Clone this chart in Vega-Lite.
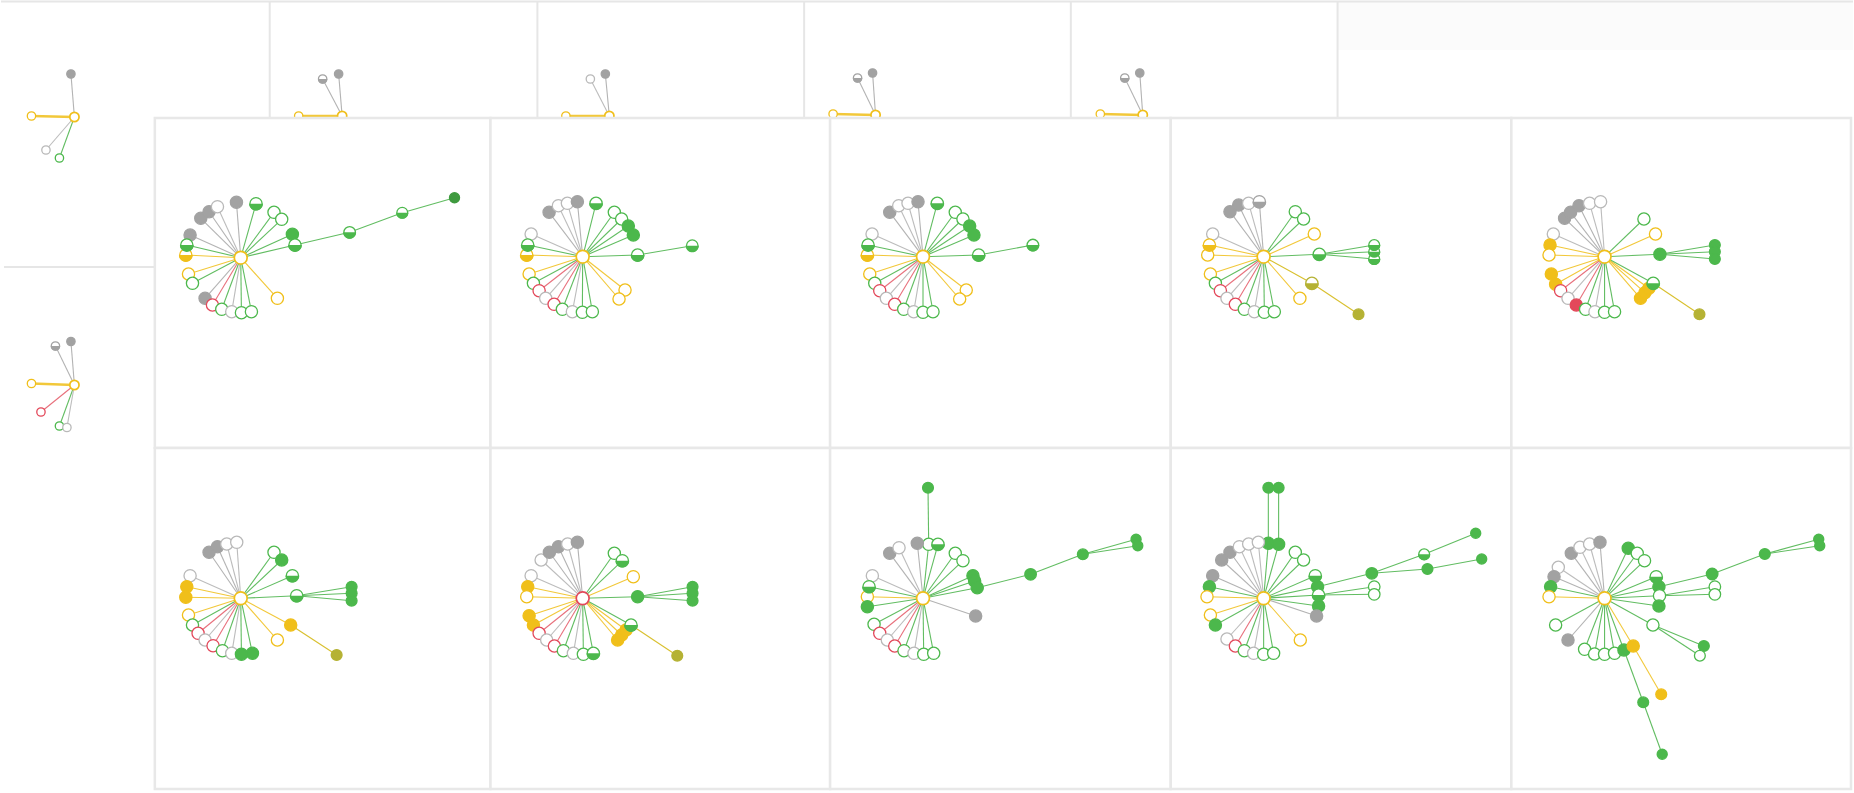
{
  "$schema": "https://vega.github.io/schema/vega-lite/v6.json",
  "width": 1854,
  "height": 793,
  "autosize": {"type": "fit", "contains": "padding"},
  "padding": 0,
  "background": "#ffffff",
  "config": {"view": {"stroke": null}},
  "datasets": {
    "frames": [
      {"k": "band", "x": 1338, "x2": 1854, "y": 2, "y2": 50},
      {"k": "L", "x": 154, "x2": 490, "y": 118, "y2": 448},
      {"k": "L", "x": 490, "x2": 830, "y": 118, "y2": 448},
      {"k": "L", "x": 830, "x2": 1171, "y": 118, "y2": 448},
      {"k": "L", "x": 1171, "x2": 1512, "y": 118, "y2": 448},
      {"k": "L", "x": 1512, "x2": 1852, "y": 118, "y2": 448},
      {"k": "L", "x": 154, "x2": 490, "y": 448, "y2": 789},
      {"k": "L", "x": 490, "x2": 830, "y": 448, "y2": 789},
      {"k": "L", "x": 830, "x2": 1171, "y": 448, "y2": 789},
      {"k": "L", "x": 1171, "x2": 1512, "y": 448, "y2": 789},
      {"k": "L", "x": 1512, "x2": 1852, "y": 448, "y2": 789}
    ],
    "dividers": [
      {"x": 0, "x2": 1854, "y": 1.5, "y2": 1.5},
      {"x": 269, "x2": 269, "y": 1.5, "y2": 118},
      {"x": 537, "x2": 537, "y": 1.5, "y2": 118},
      {"x": 804, "x2": 804, "y": 1.5, "y2": 118},
      {"x": 1071, "x2": 1071, "y": 1.5, "y2": 118},
      {"x": 1338, "x2": 1338, "y": 1.5, "y2": 118},
      {"x": 3, "x2": 154, "y": 267, "y2": 267}
    ],
    "nodes": [
      {"id": "s1", "grp": "s", "x": 73.5, "y": 117, "c": "y", "t": "o", "s": "shub"},
      {"id": "s1a", "grp": "s", "x": 70, "y": 74, "p": "s1", "c": "k", "t": "f", "s": "sn"},
      {"id": "s1b", "grp": "s", "x": 30.5, "y": 116, "p": "s1", "c": "y", "t": "o", "s": "sn"},
      {"id": "s1c", "grp": "s", "x": 45, "y": 150, "p": "s1", "c": "w", "t": "o", "s": "sn"},
      {"id": "s1d", "grp": "s", "x": 58.5, "y": 158, "p": "s1", "c": "g", "t": "o", "s": "sn"},

      {"id": "s2", "grp": "s", "x": 341.5, "y": 116, "c": "y", "t": "o", "s": "shub"},
      {"id": "s2a", "grp": "s", "x": 322, "y": 79, "p": "s2", "c": "k", "t": "h", "s": "sn"},
      {"id": "s2b", "grp": "s", "x": 338, "y": 74, "p": "s2", "c": "k", "t": "f", "s": "sn"},
      {"id": "s2c", "grp": "s", "x": 298, "y": 116, "p": "s2", "c": "y", "t": "o", "s": "sn"},

      {"id": "s3", "grp": "s", "x": 609, "y": 116, "c": "y", "t": "o", "s": "shub"},
      {"id": "s3a", "grp": "s", "x": 590, "y": 79, "p": "s3", "c": "w", "t": "o", "s": "sn"},
      {"id": "s3b", "grp": "s", "x": 605, "y": 74, "p": "s3", "c": "k", "t": "f", "s": "sn"},
      {"id": "s3c", "grp": "s", "x": 565.5, "y": 116, "p": "s3", "c": "y", "t": "o", "s": "sn"},

      {"id": "s4", "grp": "s", "x": 875.5, "y": 115, "c": "y", "t": "o", "s": "shub"},
      {"id": "s4a", "grp": "s", "x": 857.5, "y": 78, "p": "s4", "c": "k", "t": "h", "s": "sn"},
      {"id": "s4b", "grp": "s", "x": 872.5, "y": 73, "p": "s4", "c": "k", "t": "f", "s": "sn"},
      {"id": "s4c", "grp": "s", "x": 833, "y": 114, "p": "s4", "c": "y", "t": "o", "s": "sn"},

      {"id": "s5", "grp": "s", "x": 1143, "y": 115, "c": "y", "t": "o", "s": "shub"},
      {"id": "s5a", "grp": "s", "x": 1125, "y": 78, "p": "s5", "c": "k", "t": "h", "s": "sn"},
      {"id": "s5b", "grp": "s", "x": 1140, "y": 73, "p": "s5", "c": "k", "t": "f", "s": "sn"},
      {"id": "s5c", "grp": "s", "x": 1100.5, "y": 114, "p": "s5", "c": "y", "t": "o", "s": "sn"},

      {"id": "s6", "grp": "s", "x": 73.5, "y": 385, "c": "y", "t": "o", "s": "shub"},
      {"id": "s6a", "grp": "s", "x": 54.5, "y": 346, "p": "s6", "c": "k", "t": "h", "s": "sn"},
      {"id": "s6b", "grp": "s", "x": 70, "y": 341.5, "p": "s6", "c": "k", "t": "f", "s": "sn"},
      {"id": "s6c", "grp": "s", "x": 30.5, "y": 383.5, "p": "s6", "c": "y", "t": "o", "s": "sn"},
      {"id": "s6d", "grp": "s", "x": 40, "y": 412, "p": "s6", "c": "r", "t": "o", "s": "sn"},
      {"id": "s6e", "grp": "s", "x": 58.5, "y": 426, "p": "s6", "c": "g", "t": "o", "s": "sn"},
      {"id": "s6f", "grp": "s", "x": 66, "y": 427.5, "p": "s6", "c": "w", "t": "o", "s": "sn"},

      {"id": "a0", "grp": "L", "x": 240, "y": 257.7, "c": "y", "t": "o", "s": "hub"},
      {"id": "a1", "grp": "L", "x": 235.7, "y": 202.3, "p": "a0", "c": "k", "t": "f", "s": "n"},
      {"id": "a2", "grp": "L", "x": 255.3, "y": 203.7, "p": "a0", "c": "g", "t": "h", "s": "n"},
      {"id": "a3", "grp": "L", "x": 273.3, "y": 212.3, "p": "a0", "c": "g", "t": "o", "s": "n"},
      {"id": "a4", "grp": "L", "x": 281, "y": 219.3, "p": "a0", "c": "g", "t": "o", "s": "n"},
      {"id": "a5", "grp": "L", "x": 291.7, "y": 234.3, "p": "a0", "c": "g", "t": "f", "s": "n"},
      {"id": "a6", "grp": "L", "x": 294.3, "y": 245, "p": "a0", "c": "g", "t": "h", "s": "n"},
      {"id": "a7", "grp": "L", "x": 349, "y": 232.3, "p": "a6", "c": "g", "t": "h", "s": "m"},
      {"id": "a8", "grp": "L", "x": 401.7, "y": 212.7, "p": "a7", "c": "g", "t": "h", "s": "sm"},
      {"id": "a9", "grp": "L", "x": 454, "y": 197.7, "p": "a8", "c": "d", "t": "f", "s": "t"},
      {"id": "a12", "grp": "L", "x": 200, "y": 218.3, "p": "a0", "c": "k", "t": "f", "s": "n"},
      {"id": "a11", "grp": "L", "x": 208.3, "y": 211.7, "p": "a0", "c": "k", "t": "f", "s": "n"},
      {"id": "a10", "grp": "L", "x": 216.7, "y": 206.7, "p": "a0", "c": "w", "t": "o", "s": "n"},
      {"id": "a13", "grp": "L", "x": 189.3, "y": 235, "p": "a0", "c": "k", "t": "f", "s": "n"},
      {"id": "a14", "grp": "L", "x": 186, "y": 245, "p": "a0", "c": "g", "t": "h", "s": "n"},
      {"id": "a15", "grp": "L", "x": 185, "y": 255, "p": "a0", "c": "y", "t": "h", "s": "n"},
      {"id": "a16", "grp": "L", "x": 187.7, "y": 274, "p": "a0", "c": "y", "t": "o", "s": "n"},
      {"id": "a17", "grp": "L", "x": 191.7, "y": 283.3, "p": "a0", "c": "g", "t": "o", "s": "n"},
      {"id": "a18", "grp": "L", "x": 204.3, "y": 298.3, "p": "a0", "c": "k", "t": "f", "s": "n"},
      {"id": "a19", "grp": "L", "x": 211.7, "y": 305, "p": "a0", "c": "r", "t": "o", "s": "n"},
      {"id": "a20", "grp": "L", "x": 221, "y": 309.3, "p": "a0", "c": "g", "t": "o", "s": "n"},
      {"id": "a21", "grp": "L", "x": 231, "y": 311.7, "p": "a0", "c": "w", "t": "o", "s": "n"},
      {"id": "a22", "grp": "L", "x": 240.7, "y": 312.7, "p": "a0", "c": "g", "t": "o", "s": "n"},
      {"id": "a23", "grp": "L", "x": 250.7, "y": 311.7, "p": "a0", "c": "g", "t": "o", "s": "n"},
      {"id": "a24", "grp": "L", "x": 276.7, "y": 298.3, "p": "a0", "c": "y", "t": "o", "s": "n"},

      {"id": "b0", "grp": "L", "x": 582.3, "y": 256.7, "c": "y", "t": "o", "s": "hub"},
      {"id": "b1", "grp": "L", "x": 548.7, "y": 212.3, "p": "b0", "c": "k", "t": "f", "s": "n"},
      {"id": "b2", "grp": "L", "x": 558, "y": 205.7, "p": "b0", "c": "w", "t": "o", "s": "n"},
      {"id": "b3", "grp": "L", "x": 567, "y": 203.3, "p": "b0", "c": "w", "t": "o", "s": "n"},
      {"id": "b4", "grp": "L", "x": 577, "y": 201.7, "p": "b0", "c": "k", "t": "f", "s": "n"},
      {"id": "b5", "grp": "L", "x": 595.7, "y": 203.3, "p": "b0", "c": "g", "t": "h", "s": "n"},
      {"id": "b6", "grp": "L", "x": 614, "y": 212.3, "p": "b0", "c": "g", "t": "o", "s": "n"},
      {"id": "b7", "grp": "L", "x": 621.3, "y": 219, "p": "b0", "c": "g", "t": "o", "s": "n"},
      {"id": "b8", "grp": "L", "x": 628, "y": 226, "p": "b0", "c": "g", "t": "f", "s": "n"},
      {"id": "b9", "grp": "L", "x": 633, "y": 235, "p": "b0", "c": "g", "t": "f", "s": "n"},
      {"id": "b10", "grp": "L", "x": 637.3, "y": 255, "p": "b0", "c": "g", "t": "h", "s": "n"},
      {"id": "b11", "grp": "L", "x": 692, "y": 245.7, "p": "b10", "c": "g", "t": "h", "s": "m"},
      {"id": "b12", "grp": "L", "x": 530.7, "y": 234, "p": "b0", "c": "w", "t": "o", "s": "n"},
      {"id": "b13", "grp": "L", "x": 527.3, "y": 245, "p": "b0", "c": "g", "t": "h", "s": "n"},
      {"id": "b14", "grp": "L", "x": 526.3, "y": 255, "p": "b0", "c": "y", "t": "h", "s": "n"},
      {"id": "b15", "grp": "L", "x": 528.7, "y": 274, "p": "b0", "c": "y", "t": "o", "s": "n"},
      {"id": "b16", "grp": "L", "x": 533, "y": 283.3, "p": "b0", "c": "g", "t": "o", "s": "n"},
      {"id": "b17", "grp": "L", "x": 538.7, "y": 290.7, "p": "b0", "c": "r", "t": "o", "s": "n"},
      {"id": "b18", "grp": "L", "x": 545.3, "y": 298.3, "p": "b0", "c": "w", "t": "o", "s": "n"},
      {"id": "b19", "grp": "L", "x": 553.7, "y": 304.3, "p": "b0", "c": "r", "t": "o", "s": "n"},
      {"id": "b20", "grp": "L", "x": 562, "y": 309.3, "p": "b0", "c": "g", "t": "o", "s": "n"},
      {"id": "b21", "grp": "L", "x": 572, "y": 311.7, "p": "b0", "c": "w", "t": "o", "s": "n"},
      {"id": "b22", "grp": "L", "x": 582, "y": 312.3, "p": "b0", "c": "g", "t": "o", "s": "n"},
      {"id": "b23", "grp": "L", "x": 592, "y": 311.7, "p": "b0", "c": "g", "t": "o", "s": "n"},
      {"id": "b24", "grp": "L", "x": 624.7, "y": 290, "p": "b0", "c": "y", "t": "o", "s": "n"},
      {"id": "b25", "grp": "L", "x": 618.7, "y": 299, "p": "b0", "c": "y", "t": "o", "s": "n"},

      {"id": "c0", "grp": "L", "x": 923, "y": 256.7, "c": "y", "t": "o", "s": "hub"},
      {"id": "c1", "grp": "L", "x": 889.7, "y": 212.3, "p": "c0", "c": "k", "t": "f", "s": "n"},
      {"id": "c2", "grp": "L", "x": 898.7, "y": 205.7, "p": "c0", "c": "w", "t": "o", "s": "n"},
      {"id": "c3", "grp": "L", "x": 908, "y": 203.3, "p": "c0", "c": "w", "t": "o", "s": "n"},
      {"id": "c4", "grp": "L", "x": 918, "y": 201.7, "p": "c0", "c": "k", "t": "f", "s": "n"},
      {"id": "c5", "grp": "L", "x": 937.3, "y": 203.3, "p": "c0", "c": "g", "t": "h", "s": "n"},
      {"id": "c6", "grp": "L", "x": 955.3, "y": 212.3, "p": "c0", "c": "g", "t": "o", "s": "n"},
      {"id": "c7", "grp": "L", "x": 963, "y": 219, "p": "c0", "c": "g", "t": "o", "s": "n"},
      {"id": "c8", "grp": "L", "x": 969.7, "y": 226, "p": "c0", "c": "g", "t": "f", "s": "n"},
      {"id": "c9", "grp": "L", "x": 974, "y": 235, "p": "c0", "c": "g", "t": "f", "s": "n"},
      {"id": "c10", "grp": "L", "x": 978.7, "y": 255, "p": "c0", "c": "g", "t": "h", "s": "n"},
      {"id": "c11", "grp": "L", "x": 1033, "y": 245, "p": "c10", "c": "g", "t": "h", "s": "m"},
      {"id": "c12", "grp": "L", "x": 872, "y": 234, "p": "c0", "c": "w", "t": "o", "s": "n"},
      {"id": "c13", "grp": "L", "x": 868, "y": 245, "p": "c0", "c": "g", "t": "h", "s": "n"},
      {"id": "c14", "grp": "L", "x": 867.3, "y": 255, "p": "c0", "c": "y", "t": "h", "s": "n"},
      {"id": "c15", "grp": "L", "x": 869.7, "y": 274, "p": "c0", "c": "y", "t": "o", "s": "n"},
      {"id": "c16", "grp": "L", "x": 874.7, "y": 283.3, "p": "c0", "c": "g", "t": "o", "s": "n"},
      {"id": "c17", "grp": "L", "x": 879.7, "y": 290.7, "p": "c0", "c": "r", "t": "o", "s": "n"},
      {"id": "c18", "grp": "L", "x": 886.3, "y": 298.3, "p": "c0", "c": "w", "t": "o", "s": "n"},
      {"id": "c19", "grp": "L", "x": 894.7, "y": 304.3, "p": "c0", "c": "r", "t": "o", "s": "n"},
      {"id": "c20", "grp": "L", "x": 903.7, "y": 309.3, "p": "c0", "c": "g", "t": "o", "s": "n"},
      {"id": "c21", "grp": "L", "x": 913.7, "y": 311.7, "p": "c0", "c": "w", "t": "o", "s": "n"},
      {"id": "c22", "grp": "L", "x": 923, "y": 312.3, "p": "c0", "c": "g", "t": "o", "s": "n"},
      {"id": "c23", "grp": "L", "x": 933, "y": 311.7, "p": "c0", "c": "g", "t": "o", "s": "n"},
      {"id": "c24", "grp": "L", "x": 966.3, "y": 290, "p": "c0", "c": "y", "t": "o", "s": "n"},
      {"id": "c25", "grp": "L", "x": 959.7, "y": 299, "p": "c0", "c": "y", "t": "o", "s": "n"},

      {"id": "d0", "grp": "L", "x": 1264, "y": 256.7, "c": "y", "t": "o", "s": "hub"},
      {"id": "d1", "grp": "L", "x": 1230.3, "y": 211.7, "p": "d0", "c": "k", "t": "f", "s": "n"},
      {"id": "d2", "grp": "L", "x": 1239, "y": 205, "p": "d0", "c": "k", "t": "f", "s": "n"},
      {"id": "d3", "grp": "L", "x": 1249, "y": 203.3, "p": "d0", "c": "w", "t": "o", "s": "n"},
      {"id": "d4", "grp": "L", "x": 1259.7, "y": 201.7, "p": "d0", "c": "k", "t": "h", "s": "n"},
      {"id": "d5", "grp": "L", "x": 1295.7, "y": 211.7, "p": "d0", "c": "g", "t": "o", "s": "n"},
      {"id": "d6", "grp": "L", "x": 1304, "y": 219, "p": "d0", "c": "g", "t": "o", "s": "n"},
      {"id": "d7", "grp": "L", "x": 1314.7, "y": 234, "p": "d0", "c": "y", "t": "o", "s": "n"},
      {"id": "d8", "grp": "L", "x": 1319.7, "y": 254.3, "p": "d0", "c": "g", "t": "h", "s": "n"},
      {"id": "d9", "grp": "L", "x": 1374.7, "y": 245, "p": "d8", "c": "g", "t": "h", "s": "sm"},
      {"id": "d10", "grp": "L", "x": 1374.7, "y": 251.7, "p": "d8", "c": "g", "t": "h", "s": "sm"},
      {"id": "d11", "grp": "L", "x": 1374.7, "y": 259, "p": "d8", "c": "g", "t": "h", "s": "sm"},
      {"id": "d12", "grp": "L", "x": 1213, "y": 234, "p": "d0", "c": "w", "t": "o", "s": "n"},
      {"id": "d13", "grp": "L", "x": 1209.7, "y": 245, "p": "d0", "c": "y", "t": "h", "s": "n"},
      {"id": "d14", "grp": "L", "x": 1208, "y": 255, "p": "d0", "c": "y", "t": "o", "s": "n"},
      {"id": "d15", "grp": "L", "x": 1210.7, "y": 274, "p": "d0", "c": "y", "t": "o", "s": "n"},
      {"id": "d16", "grp": "L", "x": 1215.7, "y": 283.3, "p": "d0", "c": "g", "t": "o", "s": "n"},
      {"id": "d17", "grp": "L", "x": 1220.7, "y": 290.7, "p": "d0", "c": "r", "t": "o", "s": "n"},
      {"id": "d18", "grp": "L", "x": 1227.3, "y": 298.3, "p": "d0", "c": "w", "t": "o", "s": "n"},
      {"id": "d19", "grp": "L", "x": 1235.7, "y": 304.3, "p": "d0", "c": "r", "t": "o", "s": "n"},
      {"id": "d20", "grp": "L", "x": 1244.7, "y": 309.3, "p": "d0", "c": "g", "t": "o", "s": "n"},
      {"id": "d21", "grp": "L", "x": 1254.7, "y": 311.7, "p": "d0", "c": "w", "t": "o", "s": "n"},
      {"id": "d22", "grp": "L", "x": 1264.7, "y": 312.3, "p": "d0", "c": "g", "t": "o", "s": "n"},
      {"id": "d23", "grp": "L", "x": 1274.7, "y": 311.7, "p": "d0", "c": "g", "t": "o", "s": "n"},
      {"id": "d24", "grp": "L", "x": 1300.3, "y": 298.3, "p": "d0", "c": "y", "t": "o", "s": "n"},
      {"id": "d25", "grp": "L", "x": 1312.3, "y": 283.3, "p": "d0", "c": "o", "t": "h", "s": "n"},
      {"id": "d26", "grp": "L", "x": 1359, "y": 314.3, "p": "d25", "c": "o", "t": "f", "s": "sm"},

      {"id": "e0", "grp": "L", "x": 1605.3, "y": 256.7, "c": "y", "t": "o", "s": "hub"},
      {"id": "e1", "grp": "L", "x": 1565.3, "y": 218.3, "p": "e0", "c": "k", "t": "f", "s": "n"},
      {"id": "e2", "grp": "L", "x": 1571.3, "y": 212.3, "p": "e0", "c": "k", "t": "f", "s": "n"},
      {"id": "e3", "grp": "L", "x": 1579.7, "y": 205.7, "p": "e0", "c": "k", "t": "f", "s": "n"},
      {"id": "e4", "grp": "L", "x": 1590.3, "y": 203.3, "p": "e0", "c": "w", "t": "o", "s": "n"},
      {"id": "e5", "grp": "L", "x": 1601.3, "y": 201.7, "p": "e0", "c": "w", "t": "o", "s": "n"},
      {"id": "e6", "grp": "L", "x": 1644.7, "y": 219, "p": "e0", "c": "g", "t": "o", "s": "n"},
      {"id": "e7", "grp": "L", "x": 1656.3, "y": 234, "p": "e0", "c": "y", "t": "o", "s": "n"},
      {"id": "e8", "grp": "L", "x": 1660.7, "y": 254.3, "p": "e0", "c": "g", "t": "f", "s": "n"},
      {"id": "e9", "grp": "L", "x": 1715.7, "y": 245, "p": "e8", "c": "g", "t": "f", "s": "sm"},
      {"id": "e10", "grp": "L", "x": 1715.7, "y": 251.7, "p": "e8", "c": "g", "t": "f", "s": "sm"},
      {"id": "e11", "grp": "L", "x": 1715.7, "y": 259, "p": "e8", "c": "g", "t": "f", "s": "sm"},
      {"id": "e12", "grp": "L", "x": 1554, "y": 234, "p": "e0", "c": "w", "t": "o", "s": "n"},
      {"id": "e13", "grp": "L", "x": 1550.7, "y": 245, "p": "e0", "c": "y", "t": "f", "s": "n"},
      {"id": "e14", "grp": "L", "x": 1549.7, "y": 255, "p": "e0", "c": "y", "t": "o", "s": "n"},
      {"id": "e15", "grp": "L", "x": 1552, "y": 274, "p": "e0", "c": "y", "t": "f", "s": "n"},
      {"id": "e16", "grp": "L", "x": 1556.3, "y": 284.3, "p": "e0", "c": "y", "t": "f", "s": "n"},
      {"id": "e17", "grp": "L", "x": 1561.3, "y": 290.7, "p": "e0", "c": "r", "t": "o", "s": "n"},
      {"id": "e18", "grp": "L", "x": 1568.7, "y": 298.3, "p": "e0", "c": "w", "t": "o", "s": "n"},
      {"id": "e19", "grp": "L", "x": 1577, "y": 305, "p": "e0", "c": "r", "t": "f", "s": "n"},
      {"id": "e20", "grp": "L", "x": 1586.3, "y": 309.3, "p": "e0", "c": "g", "t": "o", "s": "n"},
      {"id": "e21", "grp": "L", "x": 1595.7, "y": 311.7, "p": "e0", "c": "w", "t": "o", "s": "n"},
      {"id": "e22", "grp": "L", "x": 1605.3, "y": 312.3, "p": "e0", "c": "g", "t": "o", "s": "n"},
      {"id": "e23", "grp": "L", "x": 1615.3, "y": 311.7, "p": "e0", "c": "g", "t": "o", "s": "n"},
      {"id": "e24", "grp": "L", "x": 1641.3, "y": 298.3, "p": "e0", "c": "y", "t": "f", "s": "n"},
      {"id": "e25", "grp": "L", "x": 1645.7, "y": 292.7, "p": "e0", "c": "y", "t": "f", "s": "n"},
      {"id": "e26", "grp": "L", "x": 1649.7, "y": 288.3, "p": "e0", "c": "y", "t": "f", "s": "n"},
      {"id": "e27", "grp": "L", "x": 1654, "y": 283.3, "p": "e0", "c": "g", "t": "h", "s": "n"},
      {"id": "e28", "grp": "L", "x": 1700.3, "y": 314.3, "p": "e27", "c": "o", "t": "f", "s": "sm"},

      {"id": "f0", "grp": "L", "x": 240, "y": 598.3, "c": "y", "t": "o", "s": "hub"},
      {"id": "f1", "grp": "L", "x": 208.3, "y": 552.3, "p": "f0", "c": "k", "t": "f", "s": "n"},
      {"id": "f2", "grp": "L", "x": 216.7, "y": 546.7, "p": "f0", "c": "k", "t": "f", "s": "n"},
      {"id": "f3", "grp": "L", "x": 226, "y": 544, "p": "f0", "c": "w", "t": "o", "s": "n"},
      {"id": "f4", "grp": "L", "x": 236, "y": 542.3, "p": "f0", "c": "w", "t": "o", "s": "n"},
      {"id": "f5", "grp": "L", "x": 273.3, "y": 552.3, "p": "f0", "c": "g", "t": "o", "s": "n"},
      {"id": "f6", "grp": "L", "x": 281, "y": 560, "p": "f0", "c": "g", "t": "f", "s": "n"},
      {"id": "f7", "grp": "L", "x": 291.7, "y": 575.7, "p": "f0", "c": "g", "t": "h", "s": "n"},
      {"id": "f8", "grp": "L", "x": 296, "y": 595.7, "p": "f0", "c": "g", "t": "h", "s": "n"},
      {"id": "f9", "grp": "L", "x": 351, "y": 586.7, "p": "f8", "c": "g", "t": "f", "s": "sm"},
      {"id": "f10", "grp": "L", "x": 351, "y": 593.3, "p": "f8", "c": "g", "t": "f", "s": "sm"},
      {"id": "f11", "grp": "L", "x": 351, "y": 600.7, "p": "f8", "c": "g", "t": "f", "s": "sm"},
      {"id": "f12", "grp": "L", "x": 189.3, "y": 575.7, "p": "f0", "c": "w", "t": "o", "s": "n"},
      {"id": "f13", "grp": "L", "x": 186, "y": 586.7, "p": "f0", "c": "y", "t": "f", "s": "n"},
      {"id": "f14", "grp": "L", "x": 185, "y": 597.3, "p": "f0", "c": "y", "t": "f", "s": "n"},
      {"id": "f15", "grp": "L", "x": 187.7, "y": 615, "p": "f0", "c": "y", "t": "o", "s": "n"},
      {"id": "f16", "grp": "L", "x": 191.7, "y": 625, "p": "f0", "c": "g", "t": "o", "s": "n"},
      {"id": "f17", "grp": "L", "x": 197.3, "y": 633.3, "p": "f0", "c": "r", "t": "o", "s": "n"},
      {"id": "f18", "grp": "L", "x": 204.3, "y": 640, "p": "f0", "c": "w", "t": "o", "s": "n"},
      {"id": "f19", "grp": "L", "x": 212.3, "y": 645.7, "p": "f0", "c": "r", "t": "o", "s": "n"},
      {"id": "f20", "grp": "L", "x": 221.7, "y": 650.7, "p": "f0", "c": "g", "t": "o", "s": "n"},
      {"id": "f21", "grp": "L", "x": 231, "y": 653.3, "p": "f0", "c": "w", "t": "o", "s": "n"},
      {"id": "f22", "grp": "L", "x": 240.7, "y": 654.3, "p": "f0", "c": "g", "t": "f", "s": "n"},
      {"id": "f23", "grp": "L", "x": 251.7, "y": 653.3, "p": "f0", "c": "g", "t": "f", "s": "n"},
      {"id": "f24", "grp": "L", "x": 276.7, "y": 640, "p": "f0", "c": "y", "t": "o", "s": "n"},
      {"id": "f25", "grp": "L", "x": 290, "y": 625, "p": "f0", "c": "y", "t": "f", "s": "n"},
      {"id": "f26", "grp": "L", "x": 336, "y": 655, "p": "f25", "c": "o", "t": "f", "s": "sm"},

      {"id": "g0", "grp": "L", "x": 582.3, "y": 598.3, "c": "r", "t": "o", "s": "hub"},
      {"id": "g1", "grp": "L", "x": 540.7, "y": 560, "p": "g0", "c": "w", "t": "o", "s": "n"},
      {"id": "g2", "grp": "L", "x": 549, "y": 552.3, "p": "g0", "c": "k", "t": "f", "s": "n"},
      {"id": "g3", "grp": "L", "x": 558, "y": 546.7, "p": "g0", "c": "k", "t": "f", "s": "n"},
      {"id": "g4", "grp": "L", "x": 567.3, "y": 544, "p": "g0", "c": "w", "t": "o", "s": "n"},
      {"id": "g5", "grp": "L", "x": 577, "y": 542.3, "p": "g0", "c": "k", "t": "f", "s": "n"},
      {"id": "g6", "grp": "L", "x": 614, "y": 553.3, "p": "g0", "c": "g", "t": "o", "s": "n"},
      {"id": "g7", "grp": "L", "x": 622, "y": 560.7, "p": "g0", "c": "g", "t": "h", "s": "n"},
      {"id": "g8", "grp": "L", "x": 633, "y": 576.7, "p": "g0", "c": "y", "t": "o", "s": "n"},
      {"id": "g9", "grp": "L", "x": 637.3, "y": 596.7, "p": "g0", "c": "g", "t": "f", "s": "n"},
      {"id": "g10", "grp": "L", "x": 692.3, "y": 586.7, "p": "g9", "c": "g", "t": "f", "s": "sm"},
      {"id": "g11", "grp": "L", "x": 692.3, "y": 593.3, "p": "g9", "c": "g", "t": "f", "s": "sm"},
      {"id": "g12", "grp": "L", "x": 692.3, "y": 600.7, "p": "g9", "c": "g", "t": "f", "s": "sm"},
      {"id": "g13", "grp": "L", "x": 530.7, "y": 575.7, "p": "g0", "c": "w", "t": "o", "s": "n"},
      {"id": "g14", "grp": "L", "x": 527.3, "y": 586.7, "p": "g0", "c": "y", "t": "f", "s": "n"},
      {"id": "g15", "grp": "L", "x": 526.3, "y": 596.7, "p": "g0", "c": "y", "t": "o", "s": "n"},
      {"id": "g16", "grp": "L", "x": 528.7, "y": 615.7, "p": "g0", "c": "y", "t": "f", "s": "n"},
      {"id": "g17", "grp": "L", "x": 533, "y": 625, "p": "g0", "c": "y", "t": "f", "s": "n"},
      {"id": "g18", "grp": "L", "x": 538.7, "y": 633.3, "p": "g0", "c": "r", "t": "o", "s": "n"},
      {"id": "g19", "grp": "L", "x": 546.3, "y": 640, "p": "g0", "c": "w", "t": "o", "s": "n"},
      {"id": "g20", "grp": "L", "x": 554, "y": 646, "p": "g0", "c": "r", "t": "o", "s": "n"},
      {"id": "g21", "grp": "L", "x": 563, "y": 650.7, "p": "g0", "c": "g", "t": "o", "s": "n"},
      {"id": "g22", "grp": "L", "x": 573, "y": 653.3, "p": "g0", "c": "w", "t": "o", "s": "n"},
      {"id": "g23", "grp": "L", "x": 583, "y": 654.3, "p": "g0", "c": "g", "t": "o", "s": "n"},
      {"id": "g24", "grp": "L", "x": 593, "y": 653.3, "p": "g0", "c": "g", "t": "h", "s": "n"},
      {"id": "g25", "grp": "L", "x": 617.3, "y": 640, "p": "g0", "c": "y", "t": "f", "s": "n"},
      {"id": "g26", "grp": "L", "x": 621.3, "y": 635, "p": "g0", "c": "y", "t": "f", "s": "n"},
      {"id": "g27", "grp": "L", "x": 625.7, "y": 630, "p": "g0", "c": "y", "t": "f", "s": "n"},
      {"id": "g28", "grp": "L", "x": 630.7, "y": 625, "p": "g0", "c": "g", "t": "h", "s": "n"},
      {"id": "g29", "grp": "L", "x": 677, "y": 655.7, "p": "g28", "c": "o", "t": "f", "s": "sm"},

      {"id": "h0", "grp": "L", "x": 923, "y": 598.3, "c": "y", "t": "o", "s": "hub"},
      {"id": "h1", "grp": "L", "x": 928.7, "y": 544.3, "p": "h0", "c": "g", "t": "o", "s": "n"},
      {"id": "h2", "grp": "L", "x": 928, "y": 487.7, "p": "h1", "c": "g", "t": "f", "s": "sm"},
      {"id": "h3", "grp": "L", "x": 889.7, "y": 553.3, "p": "h0", "c": "k", "t": "f", "s": "n"},
      {"id": "h4", "grp": "L", "x": 899, "y": 547.7, "p": "h0", "c": "w", "t": "o", "s": "n"},
      {"id": "h5", "grp": "L", "x": 917.3, "y": 543.3, "p": "h0", "c": "k", "t": "f", "s": "n"},
      {"id": "h6", "grp": "L", "x": 938, "y": 544.3, "p": "h0", "c": "g", "t": "h", "s": "n"},
      {"id": "h7", "grp": "L", "x": 955.3, "y": 553.3, "p": "h0", "c": "g", "t": "o", "s": "n"},
      {"id": "h8", "grp": "L", "x": 963, "y": 560.7, "p": "h0", "c": "g", "t": "o", "s": "n"},
      {"id": "h9", "grp": "L", "x": 973, "y": 575.7, "p": "h0", "c": "g", "t": "f", "s": "n"},
      {"id": "h10", "grp": "L", "x": 974.7, "y": 581, "p": "h0", "c": "g", "t": "f", "s": "n"},
      {"id": "h11", "grp": "L", "x": 977.3, "y": 587.7, "p": "h0", "c": "g", "t": "f", "s": "n"},
      {"id": "h12", "grp": "L", "x": 1030.7, "y": 574.3, "p": "h11", "c": "g", "t": "f", "s": "m"},
      {"id": "h13", "grp": "L", "x": 1083, "y": 554.3, "p": "h12", "c": "g", "t": "f", "s": "sm"},
      {"id": "h14", "grp": "L", "x": 1136.3, "y": 539.3, "p": "h13", "c": "g", "t": "f", "s": "t"},
      {"id": "h15", "grp": "L", "x": 1138, "y": 545.7, "p": "h13", "c": "g", "t": "f", "s": "t"},
      {"id": "h16", "grp": "L", "x": 975.7, "y": 616, "p": "h0", "c": "k", "t": "f", "s": "n"},
      {"id": "h17", "grp": "L", "x": 872.3, "y": 575.7, "p": "h0", "c": "w", "t": "o", "s": "n"},
      {"id": "h18", "grp": "L", "x": 869, "y": 586.7, "p": "h0", "c": "g", "t": "h", "s": "n"},
      {"id": "h19", "grp": "L", "x": 867.3, "y": 596.7, "p": "h0", "c": "y", "t": "o", "s": "n"},
      {"id": "h20", "grp": "L", "x": 867.3, "y": 606.7, "p": "h0", "c": "g", "t": "f", "s": "n"},
      {"id": "h21", "grp": "L", "x": 874, "y": 624.3, "p": "h0", "c": "g", "t": "o", "s": "n"},
      {"id": "h22", "grp": "L", "x": 879.7, "y": 633.3, "p": "h0", "c": "r", "t": "o", "s": "n"},
      {"id": "h23", "grp": "L", "x": 887.3, "y": 640, "p": "h0", "c": "w", "t": "o", "s": "n"},
      {"id": "h24", "grp": "L", "x": 894.7, "y": 646, "p": "h0", "c": "r", "t": "o", "s": "n"},
      {"id": "h25", "grp": "L", "x": 904, "y": 650.7, "p": "h0", "c": "g", "t": "o", "s": "n"},
      {"id": "h26", "grp": "L", "x": 914, "y": 653.3, "p": "h0", "c": "w", "t": "o", "s": "n"},
      {"id": "h27", "grp": "L", "x": 923.7, "y": 654.3, "p": "h0", "c": "g", "t": "o", "s": "n"},
      {"id": "h28", "grp": "L", "x": 933.7, "y": 653.3, "p": "h0", "c": "g", "t": "o", "s": "n"},

      {"id": "i0", "grp": "L", "x": 1264, "y": 598.3, "c": "y", "t": "o", "s": "hub"},
      {"id": "i1", "grp": "L", "x": 1268.7, "y": 543.3, "p": "i0", "c": "g", "t": "f", "s": "n"},
      {"id": "i2", "grp": "L", "x": 1268.7, "y": 487.7, "p": "i1", "c": "g", "t": "f", "s": "sm"},
      {"id": "i3", "grp": "L", "x": 1279, "y": 544.3, "p": "i0", "c": "g", "t": "f", "s": "n"},
      {"id": "i4", "grp": "L", "x": 1279, "y": 487.7, "p": "i3", "c": "g", "t": "f", "s": "sm"},
      {"id": "i5", "grp": "L", "x": 1222, "y": 560, "p": "i0", "c": "k", "t": "f", "s": "n"},
      {"id": "i6", "grp": "L", "x": 1230.3, "y": 552.3, "p": "i0", "c": "k", "t": "f", "s": "n"},
      {"id": "i7", "grp": "L", "x": 1239.7, "y": 546.7, "p": "i0", "c": "w", "t": "o", "s": "n"},
      {"id": "i8", "grp": "L", "x": 1249, "y": 544, "p": "i0", "c": "w", "t": "o", "s": "n"},
      {"id": "i9", "grp": "L", "x": 1258.7, "y": 542.3, "p": "i0", "c": "w", "t": "o", "s": "n"},
      {"id": "i10", "grp": "L", "x": 1295.7, "y": 552.3, "p": "i0", "c": "g", "t": "o", "s": "n"},
      {"id": "i11", "grp": "L", "x": 1304, "y": 560, "p": "i0", "c": "g", "t": "o", "s": "n"},
      {"id": "i12", "grp": "L", "x": 1315.7, "y": 575.7, "p": "i0", "c": "g", "t": "h", "s": "n"},
      {"id": "i13", "grp": "L", "x": 1318, "y": 586.7, "p": "i0", "c": "g", "t": "f", "s": "n"},
      {"id": "i14", "grp": "L", "x": 1319, "y": 595, "p": "i0", "c": "g", "t": "h", "s": "n"},
      {"id": "i15", "grp": "L", "x": 1319, "y": 606, "p": "i0", "c": "g", "t": "f", "s": "n"},
      {"id": "i16", "grp": "L", "x": 1317, "y": 616, "p": "i0", "c": "k", "t": "f", "s": "n"},
      {"id": "i17", "grp": "L", "x": 1372.3, "y": 573.3, "p": "i13", "c": "g", "t": "f", "s": "m"},
      {"id": "i18", "grp": "L", "x": 1424.7, "y": 554.3, "p": "i17", "c": "g", "t": "h", "s": "sm"},
      {"id": "i19", "grp": "L", "x": 1476.3, "y": 533.3, "p": "i18", "c": "g", "t": "f", "s": "t"},
      {"id": "i20", "grp": "L", "x": 1428, "y": 569, "p": "i17", "c": "g", "t": "f", "s": "sm"},
      {"id": "i21", "grp": "L", "x": 1482.3, "y": 559, "p": "i20", "c": "g", "t": "f", "s": "t"},
      {"id": "i22", "grp": "L", "x": 1374.7, "y": 586.7, "p": "i14", "c": "g", "t": "o", "s": "m"},
      {"id": "i23", "grp": "L", "x": 1374.7, "y": 594.3, "p": "i14", "c": "g", "t": "o", "s": "m"},
      {"id": "i24", "grp": "L", "x": 1213, "y": 575.7, "p": "i0", "c": "k", "t": "f", "s": "n"},
      {"id": "i25", "grp": "L", "x": 1209.7, "y": 586.7, "p": "i0", "c": "g", "t": "f", "s": "n"},
      {"id": "i26", "grp": "L", "x": 1207.3, "y": 596.7, "p": "i0", "c": "y", "t": "o", "s": "n"},
      {"id": "i27", "grp": "L", "x": 1210.7, "y": 615, "p": "i0", "c": "y", "t": "o", "s": "n"},
      {"id": "i28", "grp": "L", "x": 1215.7, "y": 625, "p": "i0", "c": "g", "t": "f", "s": "n"},
      {"id": "i29", "grp": "L", "x": 1227.3, "y": 639, "p": "i0", "c": "w", "t": "o", "s": "n"},
      {"id": "i30", "grp": "L", "x": 1235.7, "y": 646, "p": "i0", "c": "r", "t": "o", "s": "n"},
      {"id": "i31", "grp": "L", "x": 1244.7, "y": 650.7, "p": "i0", "c": "g", "t": "o", "s": "n"},
      {"id": "i32", "grp": "L", "x": 1254, "y": 653.3, "p": "i0", "c": "w", "t": "o", "s": "n"},
      {"id": "i33", "grp": "L", "x": 1264, "y": 654.3, "p": "i0", "c": "g", "t": "o", "s": "n"},
      {"id": "i34", "grp": "L", "x": 1274, "y": 653.3, "p": "i0", "c": "g", "t": "o", "s": "n"},
      {"id": "i35", "grp": "L", "x": 1300.7, "y": 640, "p": "i0", "c": "y", "t": "o", "s": "n"},

      {"id": "j0", "grp": "L", "x": 1605.3, "y": 598.3, "c": "y", "t": "o", "s": "hub"},
      {"id": "j1", "grp": "L", "x": 1572, "y": 553.3, "p": "j0", "c": "k", "t": "f", "s": "n"},
      {"id": "j2", "grp": "L", "x": 1580.7, "y": 547.3, "p": "j0", "c": "w", "t": "o", "s": "n"},
      {"id": "j3", "grp": "L", "x": 1590.3, "y": 544, "p": "j0", "c": "w", "t": "o", "s": "n"},
      {"id": "j4", "grp": "L", "x": 1600.7, "y": 542.3, "p": "j0", "c": "k", "t": "f", "s": "n"},
      {"id": "j5", "grp": "L", "x": 1629, "y": 548.3, "p": "j0", "c": "g", "t": "f", "s": "n"},
      {"id": "j6", "grp": "L", "x": 1638, "y": 553.3, "p": "j0", "c": "g", "t": "o", "s": "n"},
      {"id": "j7", "grp": "L", "x": 1645.3, "y": 560.7, "p": "j0", "c": "g", "t": "o", "s": "n"},
      {"id": "j8", "grp": "L", "x": 1559, "y": 567.3, "p": "j0", "c": "w", "t": "o", "s": "n"},
      {"id": "j9", "grp": "L", "x": 1554.7, "y": 576.7, "p": "j0", "c": "k", "t": "f", "s": "n"},
      {"id": "j10", "grp": "L", "x": 1551.3, "y": 586.7, "p": "j0", "c": "g", "t": "f", "s": "n"},
      {"id": "j11", "grp": "L", "x": 1549.7, "y": 596.7, "p": "j0", "c": "y", "t": "o", "s": "n"},
      {"id": "j12", "grp": "L", "x": 1657, "y": 576.7, "p": "j0", "c": "g", "t": "h", "s": "n"},
      {"id": "j13", "grp": "L", "x": 1659.7, "y": 586.7, "p": "j0", "c": "g", "t": "f", "s": "n"},
      {"id": "j14", "grp": "L", "x": 1660.3, "y": 595.7, "p": "j0", "c": "g", "t": "o", "s": "n"},
      {"id": "j15", "grp": "L", "x": 1659.7, "y": 606, "p": "j0", "c": "g", "t": "f", "s": "n"},
      {"id": "j16", "grp": "L", "x": 1713, "y": 574, "p": "j13", "c": "g", "t": "f", "s": "m"},
      {"id": "j17", "grp": "L", "x": 1765.7, "y": 554, "p": "j16", "c": "g", "t": "f", "s": "sm"},
      {"id": "j18", "grp": "L", "x": 1819.7, "y": 539.3, "p": "j17", "c": "g", "t": "f", "s": "t"},
      {"id": "j19", "grp": "L", "x": 1820.7, "y": 545.7, "p": "j17", "c": "g", "t": "f", "s": "t"},
      {"id": "j20", "grp": "L", "x": 1715.7, "y": 586.7, "p": "j14", "c": "g", "t": "o", "s": "m"},
      {"id": "j21", "grp": "L", "x": 1715.7, "y": 594.3, "p": "j14", "c": "g", "t": "o", "s": "m"},
      {"id": "j22", "grp": "L", "x": 1556.3, "y": 625, "p": "j0", "c": "g", "t": "o", "s": "n"},
      {"id": "j23", "grp": "L", "x": 1568.7, "y": 640, "p": "j0", "c": "k", "t": "f", "s": "n"},
      {"id": "j24", "grp": "L", "x": 1585.3, "y": 649.3, "p": "j0", "c": "g", "t": "o", "s": "n"},
      {"id": "j25", "grp": "L", "x": 1595.3, "y": 654, "p": "j0", "c": "g", "t": "o", "s": "n"},
      {"id": "j26", "grp": "L", "x": 1605.3, "y": 654.3, "p": "j0", "c": "g", "t": "o", "s": "n"},
      {"id": "j27", "grp": "L", "x": 1615.3, "y": 653.3, "p": "j0", "c": "g", "t": "o", "s": "n"},
      {"id": "j28", "grp": "L", "x": 1624.7, "y": 650, "p": "j0", "c": "g", "t": "f", "s": "n"},
      {"id": "j29", "grp": "L", "x": 1644, "y": 702.3, "p": "j28", "c": "g", "t": "f", "s": "sm"},
      {"id": "j30", "grp": "L", "x": 1663, "y": 754.3, "p": "j29", "c": "g", "t": "f", "s": "t"},
      {"id": "j31", "grp": "L", "x": 1634, "y": 646, "p": "j0", "c": "y", "t": "f", "s": "n"},
      {"id": "j32", "grp": "L", "x": 1662, "y": 694.3, "p": "j31", "c": "y", "t": "f", "s": "sm"},
      {"id": "j33", "grp": "L", "x": 1653.7, "y": 625, "p": "j0", "c": "g", "t": "o", "s": "n"},
      {"id": "j34", "grp": "L", "x": 1704.7, "y": 646, "p": "j33", "c": "g", "t": "f", "s": "sm"},
      {"id": "j35", "grp": "L", "x": 1700.7, "y": 655.7, "p": "j33", "c": "g", "t": "o", "s": "sm"}
    ]
  },
  "encoding": {
    "x": {"field": "x", "type": "quantitative", "scale": {"domain": [0, 1854], "nice": false, "zero": false}, "axis": null},
    "y": {"field": "y", "type": "quantitative", "scale": {"domain": [0, 793], "nice": false, "zero": false, "reverse": true}, "axis": null}
  },
  "layer": [
    {
      "data": {"name": "frames"},
      "transform": [{"filter": "datum.k == 'band'"}],
      "mark": {"type": "rect", "fill": "#fbfbfb", "strokeWidth": 0},
      "encoding": {"x2": {"field": "x2"}, "y2": {"field": "y2"}}
    },
    {
      "data": {"name": "dividers"},
      "mark": {"type": "rule", "color": "#e6e6e6", "strokeWidth": 2},
      "encoding": {"x2": {"field": "x2"}, "y2": {"field": "y2"}}
    },
    {
      "data": {"name": "nodes"},
      "transform": [
        {"filter": "datum.grp == 's' && isValid(datum.p)"},
        {"lookup": "p", "from": {"data": {"name": "nodes"}, "key": "id", "fields": ["x", "y"]}, "as": ["x2", "y2"]}
      ],
      "mark": {"type": "rule"},
      "encoding": {
        "x2": {"field": "x2"},
        "y2": {"field": "y2"},
        "color": {"field": "c", "type": "nominal", "legend": null,
          "scale": {"domain": ["g", "d", "k", "w", "y", "o", "r"], "range": ["#62bd62", "#62bd62", "#b3b3b3", "#bcbcbc", "#f2c83a", "#d9c02e", "#e8707c"]}},
        "strokeWidth": {"condition": {"test": "datum.c == 'y'", "value": 2.6}, "value": 1.1}
      }
    },
    {
      "data": {"name": "nodes"},
      "transform": [{"filter": "datum.grp == 's'"}],
      "mark": {"type": "point", "shape": "circle", "filled": true, "opacity": 1},
      "encoding": {
        "size": {"field": "s", "type": "ordinal", "legend": null,
          "scale": {"domain": ["hub", "n", "m", "sm", "t", "shub", "sn"], "range": [165, 70, 46, 30, 16, 150, 56]}},
        "stroke": {"field": "c", "type": "nominal", "legend": null,
          "scale": {"domain": ["g", "d", "k", "w", "y", "o", "r"], "range": ["#4cb84c", "#3f9a3f", "#a2a2a2", "#b9b9b9", "#f0bf1a", "#b5b234", "#e3485a"]}},
        "fill": {"condition": {"test": "datum.t == 'f'", "field": "c", "type": "nominal", "legend": null,
          "scale": {"domain": ["g", "d", "k", "w", "y", "o", "r"], "range": ["#4cb84c", "#3f9a3f", "#a2a2a2", "#b9b9b9", "#f0bf1a", "#b5b234", "#e3485a"]}}, "value": "#ffffff"},
        "strokeWidth": {"condition": {"test": "datum.s == 'shub'", "value": 1.7}, "value": 1.3}
      }
    },
    {
      "data": {"name": "nodes"},
      "transform": [{"filter": "datum.grp == 's' && datum.t == 'h'"}],
      "mark": {"type": "point", "shape": "M-1.128,0A1.128,1.128,0,0,0,1.128,0Z", "filled": true, "opacity": 1, "strokeWidth": 0},
      "encoding": {
        "size": {"field": "s", "type": "ordinal", "legend": null},
        "fill": {"field": "c", "type": "nominal", "legend": null}
      }
    },
    {
      "data": {"name": "frames"},
      "transform": [{"filter": "datum.k == 'L'"}],
      "mark": {"type": "rect", "fill": "#ffffff", "stroke": "#e8e8e8", "strokeWidth": 2.5},
      "encoding": {"x2": {"field": "x2"}, "y2": {"field": "y2"}}
    },
    {
      "data": {"name": "nodes"},
      "transform": [
        {"filter": "datum.grp == 'L' && isValid(datum.p)"},
        {"lookup": "p", "from": {"data": {"name": "nodes"}, "key": "id", "fields": ["x", "y"]}, "as": ["x2", "y2"]}
      ],
      "mark": {"type": "rule", "strokeWidth": 1.1},
      "encoding": {
        "x2": {"field": "x2"},
        "y2": {"field": "y2"},
        "color": {"field": "c", "type": "nominal", "legend": null}
      }
    },
    {
      "data": {"name": "nodes"},
      "transform": [{"filter": "datum.grp == 'L'"}],
      "mark": {"type": "point", "shape": "circle", "filled": true, "opacity": 1},
      "encoding": {
        "size": {"field": "s", "type": "ordinal", "legend": null},
        "stroke": {"field": "c", "type": "nominal", "legend": null},
        "fill": {"condition": {"test": "datum.t == 'f'", "field": "c", "type": "nominal", "legend": null}, "value": "#ffffff"},
        "strokeWidth": {"condition": {"test": "datum.s == 'hub'", "value": 1.7}, "value": 1.3}
      }
    },
    {
      "data": {"name": "nodes"},
      "transform": [{"filter": "datum.grp == 'L' && datum.t == 'h'"}],
      "mark": {"type": "point", "shape": "M-1.128,0A1.128,1.128,0,0,0,1.128,0Z", "filled": true, "opacity": 1, "strokeWidth": 0},
      "encoding": {
        "size": {"field": "s", "type": "ordinal", "legend": null},
        "fill": {"field": "c", "type": "nominal", "legend": null}
      }
    }
  ]
}
